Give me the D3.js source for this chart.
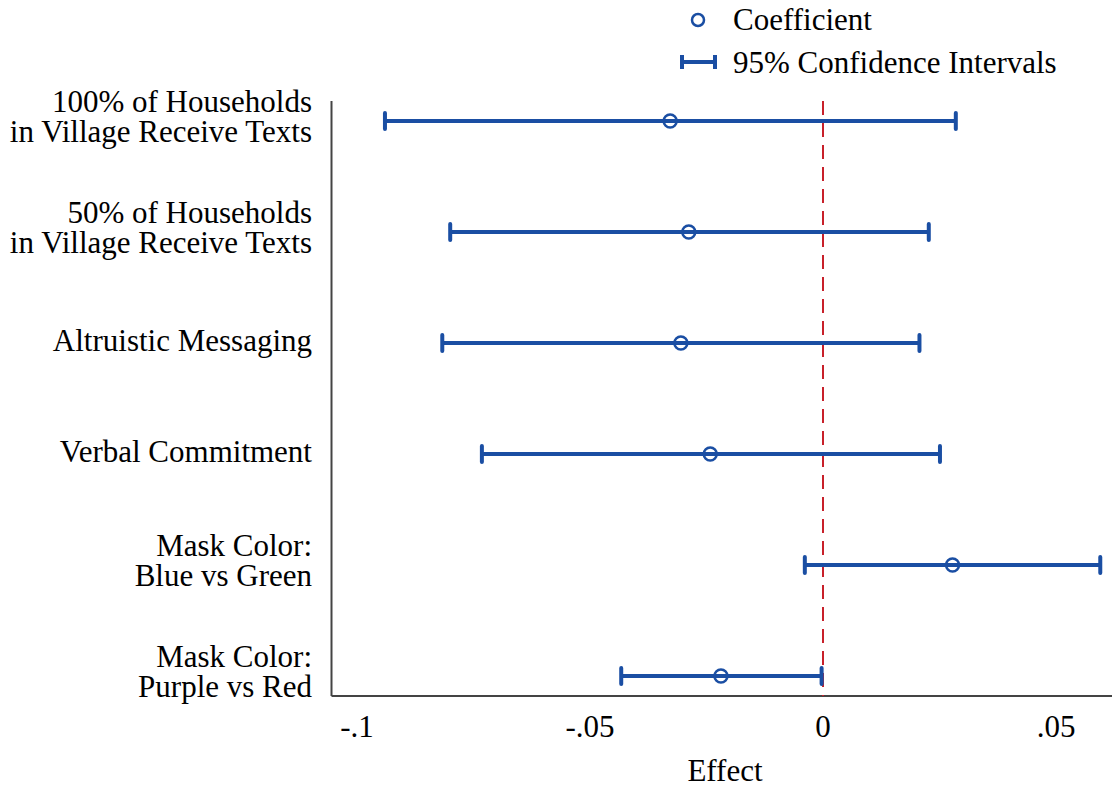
<!DOCTYPE html>
<html>
<head>
<meta charset="utf-8">
<script src="https://cdn.jsdelivr.net/npm/d3@7"></script>
<style>
  body { margin: 0; background: #fff; }
</style>
</head>
<body>
<div id="chart"></div>
<script>
const labels = [
  ["100% of Households", "in Village Receive Texts"],
  ["50% of Households", "in Village Receive Texts"],
  ["Altruistic Messaging"],
  ["Verbal Commitment"],
  ["Mask Color:", "Blue vs Green"],
  ["Mask Color:", "Purple vs Red"]
];
const coef  = [-0.0328, -0.0288, -0.0305, -0.0242, 0.0278, -0.0219];
const lower = [-0.0940, -0.0800, -0.0817, -0.0732, -0.0039, -0.0433];
const upper = [ 0.0285,  0.0227,  0.0207,  0.0251,  0.0595, -0.0003];
const ticks = [-0.1, -0.05, 0, 0.05];
const tickLabels = ["-.1", "-.05", "0", ".05"];

const width = 1112, height = 788;
const blue = "#1a4ea3", red = "#c8202a";
const fs = 31;

const svg = d3.select("#chart").append("svg")
    .attr("width", width)
    .attr("height", height)
    .style("font-family", '"Liberation Serif"');

const x = d3.scaleLinear().domain([-0.1, 0.05]).range([357, 1056]);
const y = d3.scalePoint().domain(d3.range(labels.length)).range([121, 676]);

const plotLeft = 331.5, plotBottom = 696, plotTop = 101;

// axes lines
svg.append("line")
    .attr("x1", plotLeft).attr("x2", plotLeft)
    .attr("y1", plotTop).attr("y2", plotBottom)
    .attr("stroke", "#444").attr("stroke-width", 2);
svg.append("line")
    .attr("x1", plotLeft).attr("x2", width)
    .attr("y1", plotBottom).attr("y2", plotBottom)
    .attr("stroke", "#444").attr("stroke-width", 2);

// x tick labels
svg.selectAll(".tick-label")
    .data(ticks)
    .join("text")
    .attr("class", "tick-label")
    .attr("x", d => x(d))
    .attr("y", 737)
    .attr("text-anchor", "middle")
    .attr("font-size", fs)
    .text((d, i) => tickLabels[i]);

svg.append("text")
    .attr("x", 725)
    .attr("y", 781)
    .attr("text-anchor", "middle")
    .attr("font-size", fs)
    .text("Effect");

// y labels
svg.selectAll(".ylab")
    .data(labels)
    .join("text")
    .attr("class", "ylab")
    .attr("text-anchor", "end")
    .attr("font-size", fs)
    .each(function(d, i) {
        const t = d3.select(this);
        const n = d.length;
        d.forEach((line, j) => {
            t.append("tspan")
                .attr("x", 312)
                .attr("y", n > 1 ? y(i) - 9 + j * 30 : y(i) + 8)
                .text(line);
        });
    });

// zero line
svg.append("line")
    .attr("x1", x(0)).attr("x2", x(0))
    .attr("y1", plotTop).attr("y2", plotBottom)
    .attr("stroke", red).attr("stroke-width", 2)
    .attr("stroke-dasharray", "14,8");

// error bars
const g = svg.append("g");
g.selectAll(".ci")
    .data(coef)
    .join("line")
    .attr("x1", (d, i) => x(lower[i]))
    .attr("x2", (d, i) => x(upper[i]))
    .attr("y1", (d, i) => y(i))
    .attr("y2", (d, i) => y(i))
    .attr("stroke", blue).attr("stroke-width", 4);
[lower, upper].forEach(arr => {
    g.selectAll(null)
        .data(arr)
        .join("line")
        .attr("x1", d => x(d)).attr("x2", d => x(d))
        .attr("y1", (d, i) => y(i) - 8)
        .attr("y2", (d, i) => y(i) + 8)
        .attr("stroke", blue).attr("stroke-width", 4)
        .attr("stroke-linecap", "round");
});
g.selectAll(".pt")
    .data(coef)
    .join("circle")
    .attr("cx", d => x(d))
    .attr("cy", (d, i) => y(i))
    .attr("r", 6.5)
    .attr("fill", "none")
    .attr("stroke", blue).attr("stroke-width", 2.5);

// legend
const leg = svg.append("g");
leg.append("circle")
    .attr("cx", 698).attr("cy", 20).attr("r", 6)
    .attr("fill", "#fff").attr("stroke", blue).attr("stroke-width", 2.5);
leg.append("text").attr("x", 733).attr("y", 30).attr("font-size", fs).text("Coefficient");
leg.append("line")
    .attr("x1", 682).attr("x2", 715).attr("y1", 62).attr("y2", 62)
    .attr("stroke", blue).attr("stroke-width", 4);
[682, 715].forEach(px => {
    leg.append("line")
        .attr("x1", px).attr("x2", px).attr("y1", 55).attr("y2", 69)
        .attr("stroke", blue).attr("stroke-width", 4);
});
leg.append("text").attr("x", 733).attr("y", 73).attr("font-size", fs).text("95% Confidence Intervals");
</script>
</body>
</html>
